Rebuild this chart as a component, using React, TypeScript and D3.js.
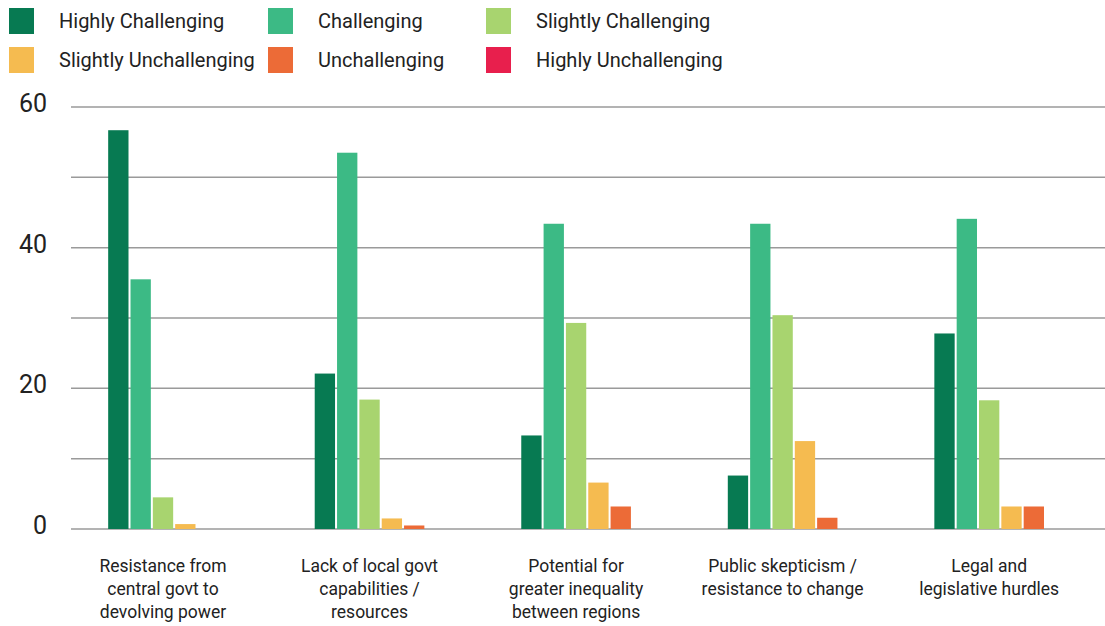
import { useMemo } from "react";
import * as d3 from "d3";

const categories = [
  ["Resistance from", "central govt to", "devolving power"],
  ["Lack of local govt", "capabilities /", "resources"],
  ["Potential for", "greater inequality", "between regions"],
  ["Public skepticism /", "resistance to change"],
  ["Legal and", "legislative hurdles"],
];

const seriesNames = [
  "Highly Challenging",
  "Challenging",
  "Slightly Challenging",
  "Slightly Unchallenging",
  "Unchallenging",
  "Highly Unchallenging",
];

const highlyChallenging = [56.7, 22.1, 13.3, 7.6, 27.8];
const challenging = [35.5, 53.5, 43.4, 43.4, 44.1];
const slightlyChallenging = [4.5, 18.4, 29.3, 30.4, 18.3];
const slightlyUnchallenging = [0.7, 1.5, 6.6, 12.5, 3.2];
const unchallenging = [0, 0.5, 3.2, 1.6, 3.2];
const highlyUnchallenging = [0, 0, 0, 0, 0];

const yTicks = [0, 20, 40, 60];
const gridTicks = [0, 10, 20, 30, 40, 50, 60];

const colors = ["#077a52", "#3cba85", "#a8d46f", "#f5bb50", "#ec6b37", "#e81f4d"];

const W = 1105;
const H = 626;
const FONT = "Roboto, 'Open Sans', sans-serif";

export default function App() {
  const values = [
    highlyChallenging,
    challenging,
    slightlyChallenging,
    slightlyUnchallenging,
    unchallenging,
    highlyUnchallenging,
  ];
  const ids = categories.map((_, i) => String(i));

  const x0 = useMemo(
    () => d3.scaleBand().domain(ids).range([71, 1103.5]).paddingInner(0.361).paddingOuter(0.18),
    []
  );
  const x1 = useMemo(
    () => d3.scaleBand().domain(seriesNames).range([0, x0.bandwidth()]).paddingInner(0.09),
    [x0]
  );
  const y = d3.scaleLinear().domain([0, 60]).range([529, 107]);

  // legend layout: three columns, two rows
  const legendCols = [9, 268, 486];
  const legendRows = [21, 60];

  return (
    <svg width={W} height={H} style={{ position: "absolute", left: 0, top: 0, background: "#fff" }}>
      {seriesNames.map((name, i) => {
        const lx = legendCols[i % 3];
        const ly = legendRows[Math.floor(i / 3)];
        return (
          <g key={name}>
            <rect x={lx} y={ly - 13} width={25} height={26} fill={colors[i]} />
            <text x={lx + 50} y={ly} dy="0.35em" fontFamily={FONT} fontSize={20} fill="#222">
              {name}
            </text>
          </g>
        );
      })}

      {gridTicks.map((t) => (
        <line key={t} x1={71} x2={W} y1={y(t)} y2={y(t)} stroke="#9a9a9a" strokeWidth={1.5} />
      ))}
      {yTicks.map((t) => (
        <text
          key={t}
          x={47}
          y={y(t)}
          dy="0.2em"
          textAnchor="end"
          fontFamily={FONT}
          fontSize={25}
          fill="#222"
        >
          {t}
        </text>
      ))}

      {ids.map((id, ci) => (
        <g key={id} transform={`translate(${x0(id)},0)`}>
          {seriesNames.map((s, si) => {
            const v = values[si][ci];
            if (!v) return null;
            return (
              <rect
                key={s}
                x={x1(s)}
                y={y(v)}
                width={x1.bandwidth()}
                height={y(0) - y(v)}
                fill={colors[si]}
              />
            );
          })}
        </g>
      ))}

      {categories.map((lines, ci) => {
        const cx =
          (x0(ids[ci]) as number) +
          ((x1(seriesNames[0]) as number) + (x1(seriesNames[4]) as number) + x1.bandwidth()) / 2;
        return (
          <text key={ci} textAnchor="middle" fontFamily={FONT} fontSize={17.5} fill="#222">
            {lines.map((l, li) => (
              <tspan key={li} x={cx} y={572 + li * 23}>
                {l}
              </tspan>
            ))}
          </text>
        );
      })}
    </svg>
  );
}
